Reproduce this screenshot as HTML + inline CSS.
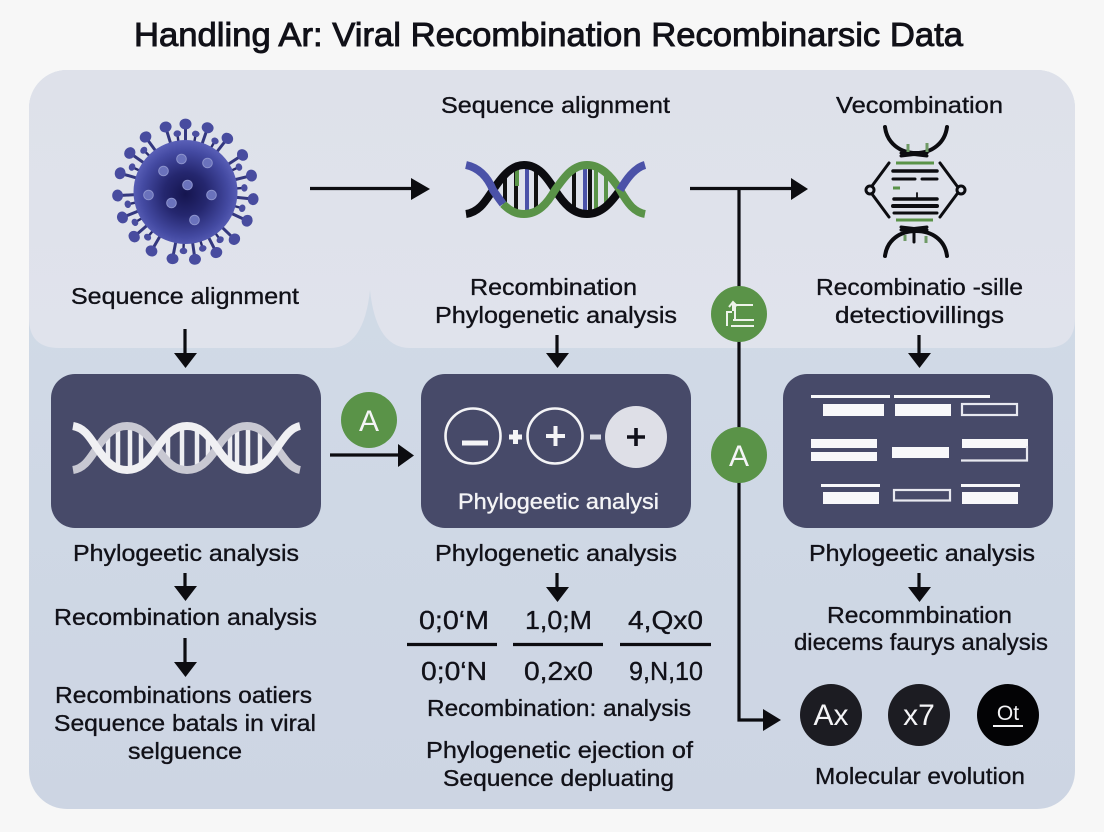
<!DOCTYPE html>
<html>
<head>
<meta charset="utf-8">
<style>
html,body{margin:0;padding:0;background:#f7f7f7;width:1104px;height:832px;overflow:hidden}
svg{display:block}
text{font-family:"Liberation Sans",sans-serif;fill:#111118;font-size:23px;stroke:#111118;stroke-width:.35px}
.w{fill:#f4f4f6;stroke:#f4f4f6}
</style>
</head>
<body>
<svg width="1104" height="832" viewBox="0 0 1104 832" xmlns="http://www.w3.org/2000/svg">
<defs>
<clipPath id="pc"><rect x="29" y="70" width="1046" height="739" rx="38"/></clipPath>
<linearGradient id="low" x1="0" y1="0" x2="0" y2="1"><stop offset="0" stop-color="#d2dce8"/><stop offset="1" stop-color="#cdd5e3"/></linearGradient>
<linearGradient id="top" x1="0" y1="0" x2="0" y2="1"><stop offset="0" stop-color="#dee1ea"/><stop offset="1" stop-color="#e0e3ec"/></linearGradient>
<radialGradient id="vir" cx=".5" cy=".52" r=".52"><stop offset="0" stop-color="#15154f"/><stop offset=".4" stop-color="#25276f"/><stop offset=".8" stop-color="#444aa2"/><stop offset="1" stop-color="#5a60b8"/></radialGradient>
<g id="sp"><line x1="0" y1="-48" x2="0" y2="-66" stroke="#34387f" stroke-width="3"/><ellipse cx="0" cy="-68" rx="6" ry="5.400" fill="#484c9f"/></g>
<g id="ss"><line x1="0" y1="-48" x2="0" y2="-58" stroke="#2a2d70" stroke-width="2.400"/><ellipse cx="0" cy="-59" rx="3.800" ry="3.200" fill="#4a4ea0"/></g>
<g id="dot"><circle r="4.800" fill="#6a72bc" stroke="#8b92cc" stroke-width="1"/></g>
</defs>

<rect width="1104" height="832" fill="#f7f7f7"/>
<rect x="29" y="70" width="1046" height="739" rx="38" fill="url(#low)"/>
<g clip-path="url(#pc)">
<path d="M29 70H1075V318Q1075 348 1045 348H410Q376 348 370 290Q364 348 330 348H59Q29 348 29 318Z" fill="url(#top)"/>
</g>

<!-- title -->
<text x="134" y="46" textLength="829" lengthAdjust="spacingAndGlyphs" style="font-size:33px;stroke-width:.9px">Handling Ar: Viral Recombination Recombinarsic Data</text>

<!-- virus -->
<g transform="translate(185.500 192)">
<use href="#sp" transform="rotate(0)"/><use href="#sp" transform="rotate(19)"/><use href="#sp" transform="rotate(38)"/><use href="#sp" transform="rotate(57)"/><use href="#sp" transform="rotate(76)"/><use href="#sp" transform="rotate(96)"/><use href="#sp" transform="rotate(115)"/><use href="#sp" transform="rotate(134)"/><use href="#sp" transform="rotate(153)"/><use href="#sp" transform="rotate(172)"/><use href="#sp" transform="rotate(191)"/><use href="#sp" transform="rotate(210)"/><use href="#sp" transform="rotate(229)"/><use href="#sp" transform="rotate(248)"/><use href="#sp" transform="rotate(267)"/><use href="#sp" transform="rotate(286)"/><use href="#sp" transform="rotate(305)"/><use href="#sp" transform="rotate(324)"/><use href="#sp" transform="rotate(343)"/>
<use href="#ss" transform="rotate(10)"/><use href="#ss" transform="rotate(30)"/><use href="#ss" transform="rotate(65)"/><use href="#ss" transform="rotate(86)"/><use href="#ss" transform="rotate(106)"/><use href="#ss" transform="rotate(144)"/><use href="#ss" transform="rotate(163)"/><use href="#ss" transform="rotate(182)"/><use href="#ss" transform="rotate(220)"/><use href="#ss" transform="rotate(239)"/><use href="#ss" transform="rotate(258)"/><use href="#ss" transform="rotate(295)"/><use href="#ss" transform="rotate(315)"/><use href="#ss" transform="rotate(352)"/>
<circle r="52" fill="url(#vir)"/>
<use href="#dot" x="-22" y="-21"/><use href="#dot" x="-4" y="-33"/><use href="#dot" x="22" y="-29"/><use href="#dot" x="-37" y="3"/><use href="#dot" x="-14" y="11"/><use href="#dot" x="2" y="-7"/><use href="#dot" x="26" y="3"/><use href="#dot" x="9" y="28"/>
</g>

<!-- top DNA -->
<g fill="none" stroke-width="8">
<g stroke-width="4">
<path d="M505 176V204M516 168V212M536 170V210" stroke="#111"/>
<path d="M527 166V214" stroke="#4b52a8"/><path d="M517 168V186" stroke="#5a9348"/>
<path d="M574 171V209M590 166V214" stroke="#111"/>
<path d="M585 166V214" stroke="#4b52a8"/><path d="M596 168V212M606 176V204" stroke="#5a9348"/>
</g>
<path d="M466 214C480 212 486 200 493 190C503 175 512 165 524 165C538 165 546 176 555 190C564 204 573 214 587 214C601 214 610 204 620 190" stroke="#0c0c10"/>
<path d="M503 204C510 211 516 214 524 214C538 214 547 204 555 190C565 176 573 165 587 165C601 165 611 176 620 190C628 204 634 212 645 214" stroke="#5a9348"/>
<path d="M466 165C480 168 488 178 493 190C497 196 500 200 503 204" stroke="#4b52a8"/>
<path d="M620 190C626 180 634 168 645 165" stroke="#4b52a8"/>
</g>

<!-- recombination icon -->
<g fill="none" stroke="#0c0c10" stroke-linecap="round">
<path d="M885 127C887 143 900 153 916 153C932 153 945 143 947 127" stroke-width="4"/>
<path d="M885 256C887 240 900 231 916 231C932 231 945 240 947 256" stroke-width="4"/>
<path d="M889 163L872 186M872 194L889 217M940 163L957 186M957 194L940 217" stroke-width="3"/>
<circle cx="870" cy="190" r="4" stroke-width="3"/>
<circle cx="961" cy="190" r="4" stroke-width="3"/>
<path d="M901 153L927 156M927 153L901 156M901 230L927 227M927 230L901 227" stroke-width="3"/>
<path d="M893 171H937" stroke-width="3.500"/>
<path d="M893 179H915M922 179H937" stroke-width="3"/>
<path d="M894 199H937" stroke-width="3.500"/>
<path d="M893 206H937" stroke-width="4"/>
<path d="M894 213H937" stroke-width="3"/>
<path d="M917 193V198" stroke-width="1.800"/>
<path d="M914 232V242" stroke-width="3"/>
</g>
<g fill="none" stroke="#5a9348" stroke-width="3">
<path d="M896 163H934M893 188H900M896 220H933"/>
<path d="M908 144V152M927 143V152M905 235V241M926 236V243" stroke="#6f9a66"/>
</g>

<!-- labels top -->
<text x="441" y="113" textLength="229" lengthAdjust="spacingAndGlyphs">Sequence alignment</text>
<text x="836" y="113" textLength="167" lengthAdjust="spacingAndGlyphs">Vecombination</text>
<text x="71" y="304" textLength="228" lengthAdjust="spacingAndGlyphs">Sequence alignment</text>
<text x="470" y="295" textLength="167" lengthAdjust="spacingAndGlyphs">Recombination</text>
<text x="435" y="323" textLength="242" lengthAdjust="spacingAndGlyphs">Phylogenetic analysis</text>
<text x="816" y="295" textLength="207" lengthAdjust="spacingAndGlyphs">Recombinatio -sille</text>
<text x="835" y="323" textLength="169" lengthAdjust="spacingAndGlyphs">detectiovillings</text>

<!-- dark boxes -->
<rect x="51" y="374" width="270" height="154" rx="24" fill="#474a69"/>
<rect x="421" y="374" width="270" height="154" rx="24" fill="#474a69"/>
<rect x="783" y="374" width="270" height="154" rx="24" fill="#474a69"/>

<!-- white DNA -->
<g fill="none">
<g stroke="#eeeef2" stroke-width="4.500">
<path d="M108 437V459M118 429V467M130 427V469M141 433V463"/>
<path d="M168 437V459M182 427V469M197 430V466M208 439V457"/>
<path d="M230 435V461M237 430V466M248 427V469M260 432V464"/>
</g>
<path d="M73 470C85 468 90 458 97 448C107 433 115 426 127 426C139 426 147 433 157 448C167 463 175 470 187 470C199 470 207 463 217 448C227 433 235 426 247 426C259 426 267 433 277 448C284 458 290 468 300 470" stroke="#c8c8d2" stroke-width="8"/>
<path d="M73 426C85 428 90 438 97 448C107 463 115 470 127 470C139 470 147 463 157 448C167 433 175 426 187 426C199 426 207 433 217 448C227 463 235 470 247 470C259 470 267 463 277 448C284 438 290 428 300 426" stroke="#f0f0f3" stroke-width="8"/>
</g>

<!-- plus/minus box -->
<g fill="none" stroke="#f4f4f6">
<circle cx="473" cy="436" r="27.500" stroke-width="2.600"/>
<circle cx="555" cy="436" r="27.500" stroke-width="2.600"/>
<path d="M462 443H488" stroke-width="5"/>
<path d="M546 436H565M555.500 426V446" stroke-width="4"/>
<path d="M509 437H522M515.500 430V444" stroke-width="5"/>
<path d="M590 437H601" stroke="#d6d8e2" stroke-width="5"/>
</g>
<circle cx="636" cy="437" r="31" fill="#dedfe7"/>
<path d="M627 437H645M636 428V446" stroke="#10101a" stroke-width="3.600" fill="none"/>
<text class="w" x="458" y="509" textLength="201" lengthAdjust="spacingAndGlyphs" style="font-size:22px">Phylogeetic analysi</text>

<!-- table box -->
<g fill="#f8f8fa">
<rect x="811" y="395" width="79" height="3"/><rect x="894" y="395" width="96" height="3"/>
<rect x="823" y="404" width="61" height="12"/><rect x="895" y="404" width="56" height="12"/>
<rect x="811" y="439" width="66" height="9"/><rect x="811" y="452" width="66" height="9"/>
<rect x="892" y="447" width="57" height="11"/>
<rect x="962" y="439" width="66" height="9"/>
<rect x="821" y="484" width="59" height="3"/>
<rect x="823" y="492" width="56" height="12"/>
<rect x="961" y="484" width="59" height="3"/>
<rect x="962" y="492" width="56" height="12"/>
</g>
<g fill="none" stroke="#e8e9f0" stroke-width="2.200">
<rect x="962" y="404" width="55" height="11"/>
<rect x="894" y="490" width="56" height="10.500"/>
<path d="M1027 446V460.500H961"/>
</g>

<!-- connectors -->
<g fill="none" stroke="#0c0c10" stroke-width="3.200">
<path d="M310 188.500H416"/>
<path d="M690 188.500H794"/>
<path d="M739 188V720H768"/>
<path d="M330 455H400"/>
<path d="M185 329V354"/><path d="M557 335V354"/><path d="M919 335V354"/>
<path d="M185 573V588"/><path d="M185 638V664"/><path d="M557 573V589"/><path d="M919 573V589"/>
<path d="M407 644.500H497M513 644.500H603M620 644.500H711"/>
</g>
<g fill="#0c0c10">
<path d="M411 178L430 189L411 200Z"/>
<path d="M791 178L808 189L791 200Z"/>
<path d="M763 709L781 720L763 731Z"/>
<path d="M398 444L414 455.500L398 467Z"/>
<path d="M174 353H197L185.500 368Z"/><path d="M546 353H569L557.500 368Z"/><path d="M908 353H931L919.500 368Z"/>
<path d="M174 586H197L185.500 601Z"/><path d="M174 662H197L185.500 677Z"/><path d="M546 587H569L557.500 602Z"/><path d="M908 587H931L919.500 602Z"/>
</g>

<!-- green circles -->
<circle cx="369" cy="420" r="28" fill="#5a9348"/>
<text class="w" x="369" y="431" text-anchor="middle" style="font-size:30px;stroke-width:0">A</text>
<circle cx="739" cy="314" r="28" fill="#5a9348"/>
<g fill="none" stroke="#eef3ea" stroke-width="2">
<path d="M727 326V312H732M731 326H754M733 320H754M735 320V305H753"/>
<path d="M729 307L733 302L737 306M733 302V311"/>
</g>
<circle cx="739" cy="455" r="28" fill="#5a9348"/>
<text class="w" x="739" y="466" text-anchor="middle" style="font-size:30px;stroke-width:0">A</text>

<!-- lower labels left -->
<text x="73" y="561" textLength="226" lengthAdjust="spacingAndGlyphs">Phylogeetic analysis</text>
<text x="54" y="625" textLength="263" lengthAdjust="spacingAndGlyphs">Recombination analysis</text>
<text x="55" y="703" textLength="257" lengthAdjust="spacingAndGlyphs">Recombinations oatiers</text>
<text x="54" y="731" textLength="262" lengthAdjust="spacingAndGlyphs">Sequence batals in viral</text>
<text x="128" y="759" textLength="114" lengthAdjust="spacingAndGlyphs">selguence</text>

<!-- lower labels middle -->
<text x="435" y="561" textLength="242" lengthAdjust="spacingAndGlyphs">Phylogenetic analysis</text>
<text x="419" y="629" textLength="70" lengthAdjust="spacingAndGlyphs" style="font-size:26px">0;0‘M</text>
<text x="525" y="629" textLength="67" lengthAdjust="spacingAndGlyphs" style="font-size:26px">1,0;M</text>
<text x="628" y="629" textLength="75" lengthAdjust="spacingAndGlyphs" style="font-size:26px">4,Qx0</text>
<text x="421" y="680" textLength="66" lengthAdjust="spacingAndGlyphs" style="font-size:26px">0;0‘N</text>
<text x="524" y="680" textLength="69" lengthAdjust="spacingAndGlyphs" style="font-size:26px">0,2x0</text>
<text x="629" y="680" textLength="74" lengthAdjust="spacingAndGlyphs" style="font-size:26px">9,N,10</text>
<text x="427" y="716" textLength="264" lengthAdjust="spacingAndGlyphs">Recombination: analysis</text>
<text x="426" y="758" textLength="267" lengthAdjust="spacingAndGlyphs">Phylogenetic ejection of</text>
<text x="443" y="786" textLength="231" lengthAdjust="spacingAndGlyphs">Sequence depluating</text>

<!-- lower labels right -->
<text x="809" y="561" textLength="226" lengthAdjust="spacingAndGlyphs">Phylogeetic analysis</text>
<text x="827" y="623" textLength="185" lengthAdjust="spacingAndGlyphs">Recommbination</text>
<text x="794" y="650" textLength="254" lengthAdjust="spacingAndGlyphs">diecems faurys analysis</text>

<circle cx="831" cy="715" r="31" fill="#1c1c22"/>
<circle cx="919" cy="715" r="31" fill="#1c1c22"/>
<circle cx="1008" cy="715" r="31" fill="#030305"/>
<text class="w" x="831" y="725" text-anchor="middle" style="font-size:30px;stroke-width:0">Ax</text>
<text class="w" x="919" y="725" text-anchor="middle" style="font-size:30px;stroke-width:0">x7</text>
<text class="w" x="1008" y="720" text-anchor="middle" style="font-size:21px;stroke-width:0">Ot</text>
<rect x="993" y="725" width="30" height="2" fill="#f4f4f6"/>
<text x="815" y="784" textLength="210" lengthAdjust="spacingAndGlyphs">Molecular evolution</text>
</svg>
</body>
</html>
